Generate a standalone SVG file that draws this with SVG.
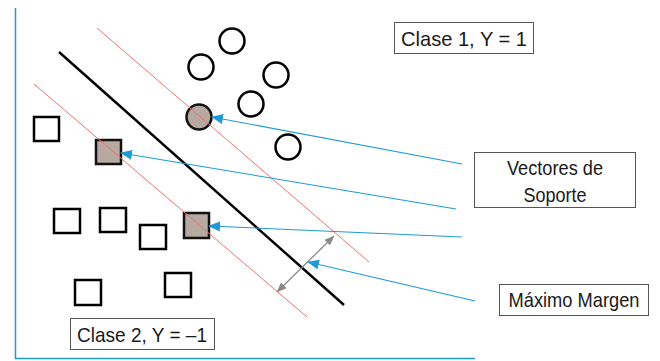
<svg xmlns="http://www.w3.org/2000/svg" width="660" height="361" viewBox="0 0 660 361">
<style>
.pt{fill:#fff;stroke:#000;stroke-width:2.5}
.svf{fill:#b4a79e;stroke:none}
.svs{fill:none;stroke:#111;stroke-width:2.5}
.red{stroke:#f07272;stroke-width:1;fill:none}
.blue{stroke:#1f9ad6;stroke-width:1.1;fill:none}
.gray{stroke:#8a8a8a;stroke-width:1.3;fill:none}
.box{fill:#fff;stroke:#555;stroke-width:1}
.lbl{font-family:"Liberation Sans",Arial,sans-serif;font-size:21px;fill:#1a1a1a}
</style>
<defs>
<marker id="ab" viewBox="0 0 12 10" refX="11" refY="5" markerWidth="12" markerHeight="10" markerUnits="userSpaceOnUse" orient="auto">
<path d="M0,0 L12,5 L0,10 Z" fill="#1f9ad6"/>
</marker>
<marker id="ag" viewBox="0 0 10 8" refX="9.5" refY="4" markerWidth="10" markerHeight="8" markerUnits="userSpaceOnUse" orient="auto-start-reverse">
<path d="M0,0 L10,4 L0,8 Z" fill="#8a8a8a"/>
</marker>
<filter id="noise" x="0" y="0" width="100%" height="100%">
<feTurbulence type="fractalNoise" baseFrequency="0.9" numOctaves="2" seed="3" result="n"/>
<feColorMatrix in="n" type="matrix" values="0 0 0 0 0.55  0 0 0 0 0.45  0 0 0 0 0.42  0 0 0 1.2 -0.45" result="c"/>
<feComposite in="c" in2="SourceGraphic" operator="atop"/>
</filter>
</defs>
<g id="axes">
<line x1="15.5" y1="8" x2="15.5" y2="359" stroke="#1f9ad6" stroke-width="1.5"/>
<line x1="15" y1="358.5" x2="475" y2="358.5" stroke="#1f9ad6" stroke-width="1.5"/>
</g>
<g id="class1">
<circle class="pt" cx="232" cy="41" r="12.5"/>
<circle class="pt" cx="201" cy="67" r="12.5"/>
<circle class="pt" cx="276" cy="75" r="12.5"/>
<circle class="pt" cx="251" cy="104" r="12.5"/>
<circle class="pt" cx="288" cy="147" r="12.5"/>
</g>
<g id="class2">
<rect class="pt" x="34" y="117" width="25" height="24"/>
<rect class="pt" x="54" y="209" width="26" height="24"/>
<rect class="pt" x="100" y="208" width="26" height="24"/>
<rect class="pt" x="140" y="225" width="26" height="24"/>
<rect class="pt" x="75" y="280" width="26" height="25"/>
<rect class="pt" x="165" y="273" width="26" height="24"/>
</g>
<g id="support-vectors">
<circle class="svf" cx="199" cy="117" r="12.5" filter="url(#noise)"/>
<circle class="svs" cx="199" cy="117" r="12.5"/>
<rect class="svf" x="96" y="140" width="25" height="24" filter="url(#noise)"/>
<rect class="svs" x="96" y="140" width="25" height="24"/>
<rect class="svf" x="184" y="213" width="25" height="25" filter="url(#noise)"/>
<rect class="svs" x="184" y="213" width="25" height="25"/>
</g>
<g id="hyperplanes">
<line class="red" x1="97" y1="28" x2="369" y2="262"/>
<line class="red" x1="34" y1="84" x2="307" y2="317"/>
<line x1="59" y1="52" x2="344" y2="305" stroke="#000" stroke-width="2.5"/>
</g>
<g id="connectors">
<line class="gray" x1="277" y1="292" x2="334" y2="236" marker-start="url(#ag)" marker-end="url(#ag)"/>
<line class="blue" x1="462" y1="164" x2="212" y2="117" marker-end="url(#ab)"/>
<line class="blue" x1="456" y1="209" x2="121" y2="153" marker-end="url(#ab)"/>
<line class="blue" x1="462" y1="237" x2="209" y2="226" marker-end="url(#ab)"/>
<line class="blue" x1="475" y1="301" x2="308" y2="262" marker-end="url(#ab)"/>
</g>
<g id="label-clase1">
<rect class="box" x="394.5" y="22.5" width="139" height="31"/>
<text class="lbl" x="464" y="46" text-anchor="middle" textLength="126" lengthAdjust="spacingAndGlyphs">Clase 1, Y = 1</text>
</g>
<g id="label-vectores">
<rect class="box" x="474.5" y="152.5" width="161" height="55"/>
<text class="lbl" x="555" y="175" text-anchor="middle" textLength="96" lengthAdjust="spacingAndGlyphs">Vectores de</text>
<text class="lbl" x="555" y="202" text-anchor="middle" textLength="63" lengthAdjust="spacingAndGlyphs">Soporte</text>
</g>
<g id="label-margen">
<rect class="box" x="499.5" y="284.5" width="149" height="31"/>
<text class="lbl" x="574" y="306.5" text-anchor="middle" textLength="131" lengthAdjust="spacingAndGlyphs">Máximo Margen</text>
</g>
<g id="label-clase2">
<rect class="box" x="70.5" y="318.5" width="144" height="31"/>
<text class="lbl" x="142" y="341.5" text-anchor="middle" textLength="130" lengthAdjust="spacingAndGlyphs">Clase 2, Y = –1</text>
</g>
</svg>
